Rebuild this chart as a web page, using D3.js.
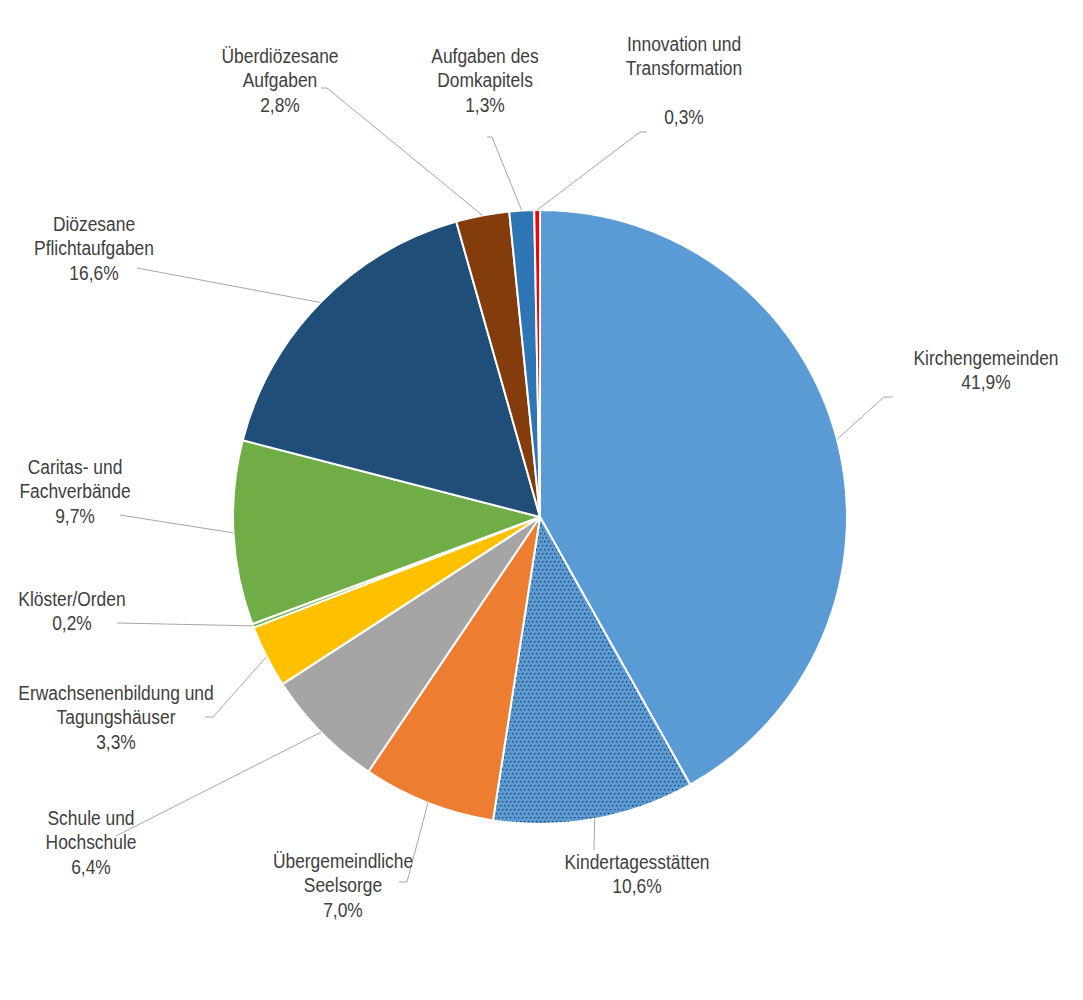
<!DOCTYPE html>
<html>
<head>
<meta charset="utf-8">
<script src="https://d3js.org/d3.v7.min.js"></script>
<style>
  body { margin: 0; background: #fff; }
  text { font-family: "Liberation Sans", Arial, sans-serif; font-size: 20px; fill: #404040; }
</style>
</head>
<body>
<script>
// data
var categories = ["Kirchengemeinden", "Kindertagesstätten", "Übergemeindliche Seelsorge",
  "Schule und Hochschule", "Erwachsenenbildung und Tagungshäuser", "Klöster/Orden",
  "Caritas- und Fachverbände", "Diözesane Pflichtaufgaben", "Überdiözesane Aufgaben",
  "Aufgaben des Domkapitels", "Innovation und Transformation"];
var values = [41.9, 10.6, 7.0, 6.4, 3.3, 0.2, 9.7, 16.6, 2.8, 1.3, 0.3];
var labelLines = [
  ["Kirchengemeinden"],
  ["Kindertagesstätten"],
  ["Übergemeindliche", "Seelsorge"],
  ["Schule und", "Hochschule"],
  ["Erwachsenenbildung und", "Tagungshäuser"],
  ["Klöster/Orden"],
  ["Caritas- und", "Fachverbände"],
  ["Diözesane", "Pflichtaufgaben"],
  ["Überdiözesane", "Aufgaben"],
  ["Aufgaben des", "Domkapitels"],
  ["Innovation und", "Transformation", ""]
];
var colors = ["#5B9BD5", "#5B9BD5", "#ED7D31", "#A5A5A5", "#FFC000", "#72B04A",
  "#70AD47", "#1F4E79", "#843C0C", "#2E75B6", "#FF0000"];

// label layout: text centre, first line centre, leader elbow and end
var labelLayout = [
  { x: 986, y: 358, elbow: [884, 397], end: [893, 397] },
  { x: 637, y: 862, elbow: [594, 850], end: [594, 850] },
  { x: 343, y: 861, elbow: [407, 882], end: [399, 882] },
  { x: 91,  y: 818, elbow: [116, 836], end: [116, 836] },
  { x: 116, y: 693, elbow: [213, 717], end: [205, 717] },
  { x: 72,  y: 599, elbow: [117, 623], end: [117, 623] },
  { x: 75,  y: 467, elbow: [120, 515], end: [120, 515] },
  { x: 94,  y: 224, elbow: [137, 268], end: [137, 268] },
  { x: 280, y: 56,  elbow: [327, 88],  end: [321, 88] },
  { x: 485, y: 56,  elbow: [492, 137], end: [487, 137] },
  { x: 684, y: 44,  elbow: [640, 132], end: [647, 132] }
];

var width = 1083, height = 1000;
var cx = 540, cy = 517, radius = 307;
var lineH = 24.5;
var narrow = 0.87; // Arial Narrow ~ Arial squeezed horizontally

var svg = d3.select("body").append("svg")
  .attr("width", width)
  .attr("height", height);

// dotted fill for Kindertagesstätten
var pat = svg.append("defs").append("pattern")
  .attr("id", "dots")
  .attr("patternUnits", "userSpaceOnUse")
  .attr("width", 4).attr("height", 8);
pat.append("rect").attr("width", 4).attr("height", 8).attr("fill", "#5B9BD5");
pat.append("rect").attr("x", 0).attr("y", 0).attr("width", 1.3).attr("height", 1.3).attr("fill", "#24374d");
pat.append("rect").attr("x", 2).attr("y", 4).attr("width", 1.3).attr("height", 1.3).attr("fill", "#24374d");

var data = categories.map(function(c, i) { return { name: c, value: values[i], i: i }; });

var pie = d3.pie().sort(null).value(function(d) { return d.value; });
var arcs = pie(data);

var arc = d3.arc().innerRadius(0).outerRadius(radius);
var edge = d3.arc().innerRadius(radius).outerRadius(radius);

var g = svg.append("g").attr("transform", "translate(" + cx + "," + cy + ")");

g.selectAll("path.slice")
  .data(arcs)
  .enter().append("path")
    .attr("class", "slice")
    .attr("d", arc)
    .attr("fill", function(d) { return d.data.i === 1 ? "url(#dots)" : colors[d.data.i]; })
    .attr("stroke", "#fff")
    .attr("stroke-width", 2)
    .attr("stroke-linejoin", "round");

// leader lines
svg.selectAll("polyline.leader")
  .data(arcs)
  .enter().append("polyline")
    .attr("class", "leader")
    .attr("fill", "none")
    .attr("stroke", "#A6A6A6")
    .attr("stroke-width", 1)
    .attr("points", function(d) {
      var p = edge.centroid(d);
      var L = labelLayout[d.data.i];
      return [[cx + p[0], cy + p[1]], L.elbow, L.end].map(function(q) { return q.join(","); }).join(" ");
    });

// labels
var labels = svg.selectAll("text.label")
  .data(arcs)
  .enter().append("text")
    .attr("class", "label")
    .attr("text-anchor", "middle")
    .attr("transform", function(d) {
      return "translate(" + labelLayout[d.data.i].x + ",0) scale(" + narrow + ",1)";
    });

labels.each(function(d) {
  var L = labelLayout[d.data.i];
  var lines = labelLines[d.data.i].concat([d3.format(".1f")(d.data.value).replace(".", ",") + "%"]);
  var t = d3.select(this);
  lines.forEach(function(s, k) {
    t.append("tspan")
      .attr("x", 0)
      .attr("y", L.y + k * lineH)
      .attr("dy", "0.35em")
      .text(s);
  });
});
</script>
</body>
</html>
